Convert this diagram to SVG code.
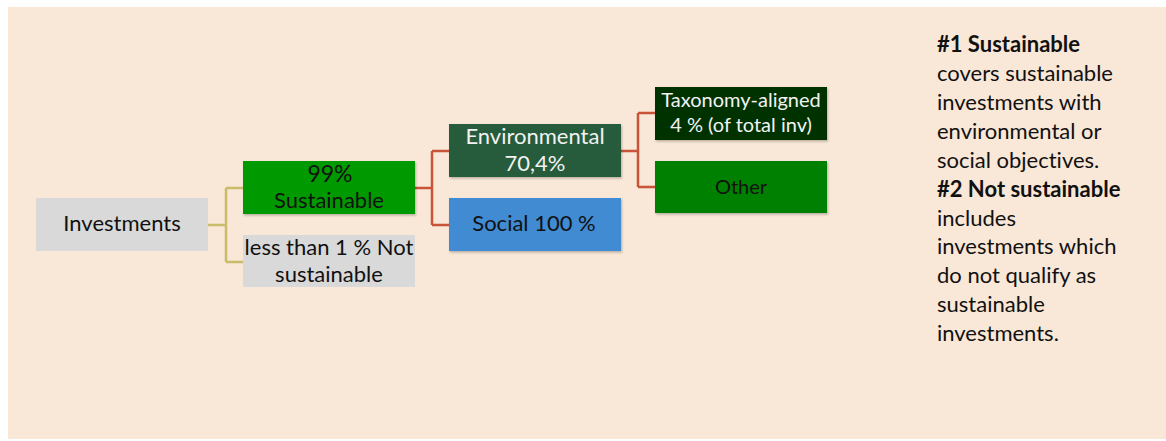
<svg xmlns="http://www.w3.org/2000/svg" width="1166" height="441" viewBox="0 0 1166 441">
<defs>
<filter id="sh" x="-5%" y="-10%" width="110%" height="130%">
<feDropShadow dx="1" dy="1.5" stdDeviation="1" flood-color="#000" flood-opacity="0.25"/>
</filter>
</defs>
<style>
text{font-family:Lato,"Open Sans","Liberation Sans",sans-serif;text-anchor:middle;font-variant-ligatures:none}
.t{font-size:22px;fill:#111}
.w{font-size:22px;fill:#f2f2f2}
.s{font-size:20px}
.legend text{text-anchor:start;font-size:22px;fill:#111}
.b{font-weight:bold}
.cy{fill:none;stroke:#c9bc6a;stroke-width:2.5}
.cr{fill:none;stroke:#c8553a;stroke-width:2.5}
</style>
<rect x="8" y="7" width="1158" height="432" fill="#f9e7d7"/>
<g id="connectors">
<path class="cy" d="M208 225H226M226 188V262M226 188H243M226 262H243"/>
<path class="cr" d="M415 188H432M432 151V225M432 151H449M432 225H449"/>
<path class="cr" d="M621 151H638M638 113V187M638 113H655M638 187H655"/>
</g>
<g id="investments">
<rect x="36" y="198" width="172" height="53" fill="#d9d9d9"/>
<text class="t" x="122" y="231">Investments</text>
</g>
<g id="sustainable">
<rect x="243" y="161" width="172" height="53" fill="#009900" filter="url(#sh)"/>
<text class="t" x="330" y="182" style="font-size:23px">99%</text>
<text class="t" x="329" y="208">Sustainable</text>
</g>
<g id="not-sustainable">
<rect x="243" y="235" width="172" height="52" fill="#d9d9d9"/>
<text class="t" x="329" y="255">less than 1 % Not</text>
<text class="t" x="329" y="282">sustainable</text>
</g>
<g id="environmental">
<rect x="449" y="124" width="172" height="53" fill="#275b3b" filter="url(#sh)"/>
<text class="w" x="535" y="144">Environmental</text>
<text class="w" x="535" y="171">70,4%</text>
</g>
<g id="social">
<rect x="449" y="198" width="172" height="53" fill="#3f8bd1" filter="url(#sh)"/>
<text class="t" x="534" y="231">Social 100 %</text>
</g>
<g id="taxonomy">
<rect x="655" y="87" width="172" height="53" fill="#033203" filter="url(#sh)"/>
<text class="w s" x="741" y="107">Taxonomy-aligned</text>
<text class="w s" x="741" y="132">4 % (of total inv)</text>
</g>
<g id="other">
<rect x="655" y="161" width="172" height="52" fill="#008000" filter="url(#sh)"/>
<text class="t s" x="741" y="194">Other</text>
</g>
<g id="legend" class="legend">
<text class="b" x="937" y="52">#1 Sustainable</text>
<text x="937" y="81">covers sustainable</text>
<text x="937" y="110">investments with</text>
<text x="937" y="139">environmental or</text>
<text x="937" y="168">social objectives.</text>
<text class="b" x="937" y="197">#2 Not sustainable</text>
<text x="937" y="226">includes</text>
<text x="937" y="254">investments which</text>
<text x="937" y="283">do not qualify as</text>
<text x="937" y="312">sustainable</text>
<text x="937" y="341">investments.</text>
</g>
</svg>
